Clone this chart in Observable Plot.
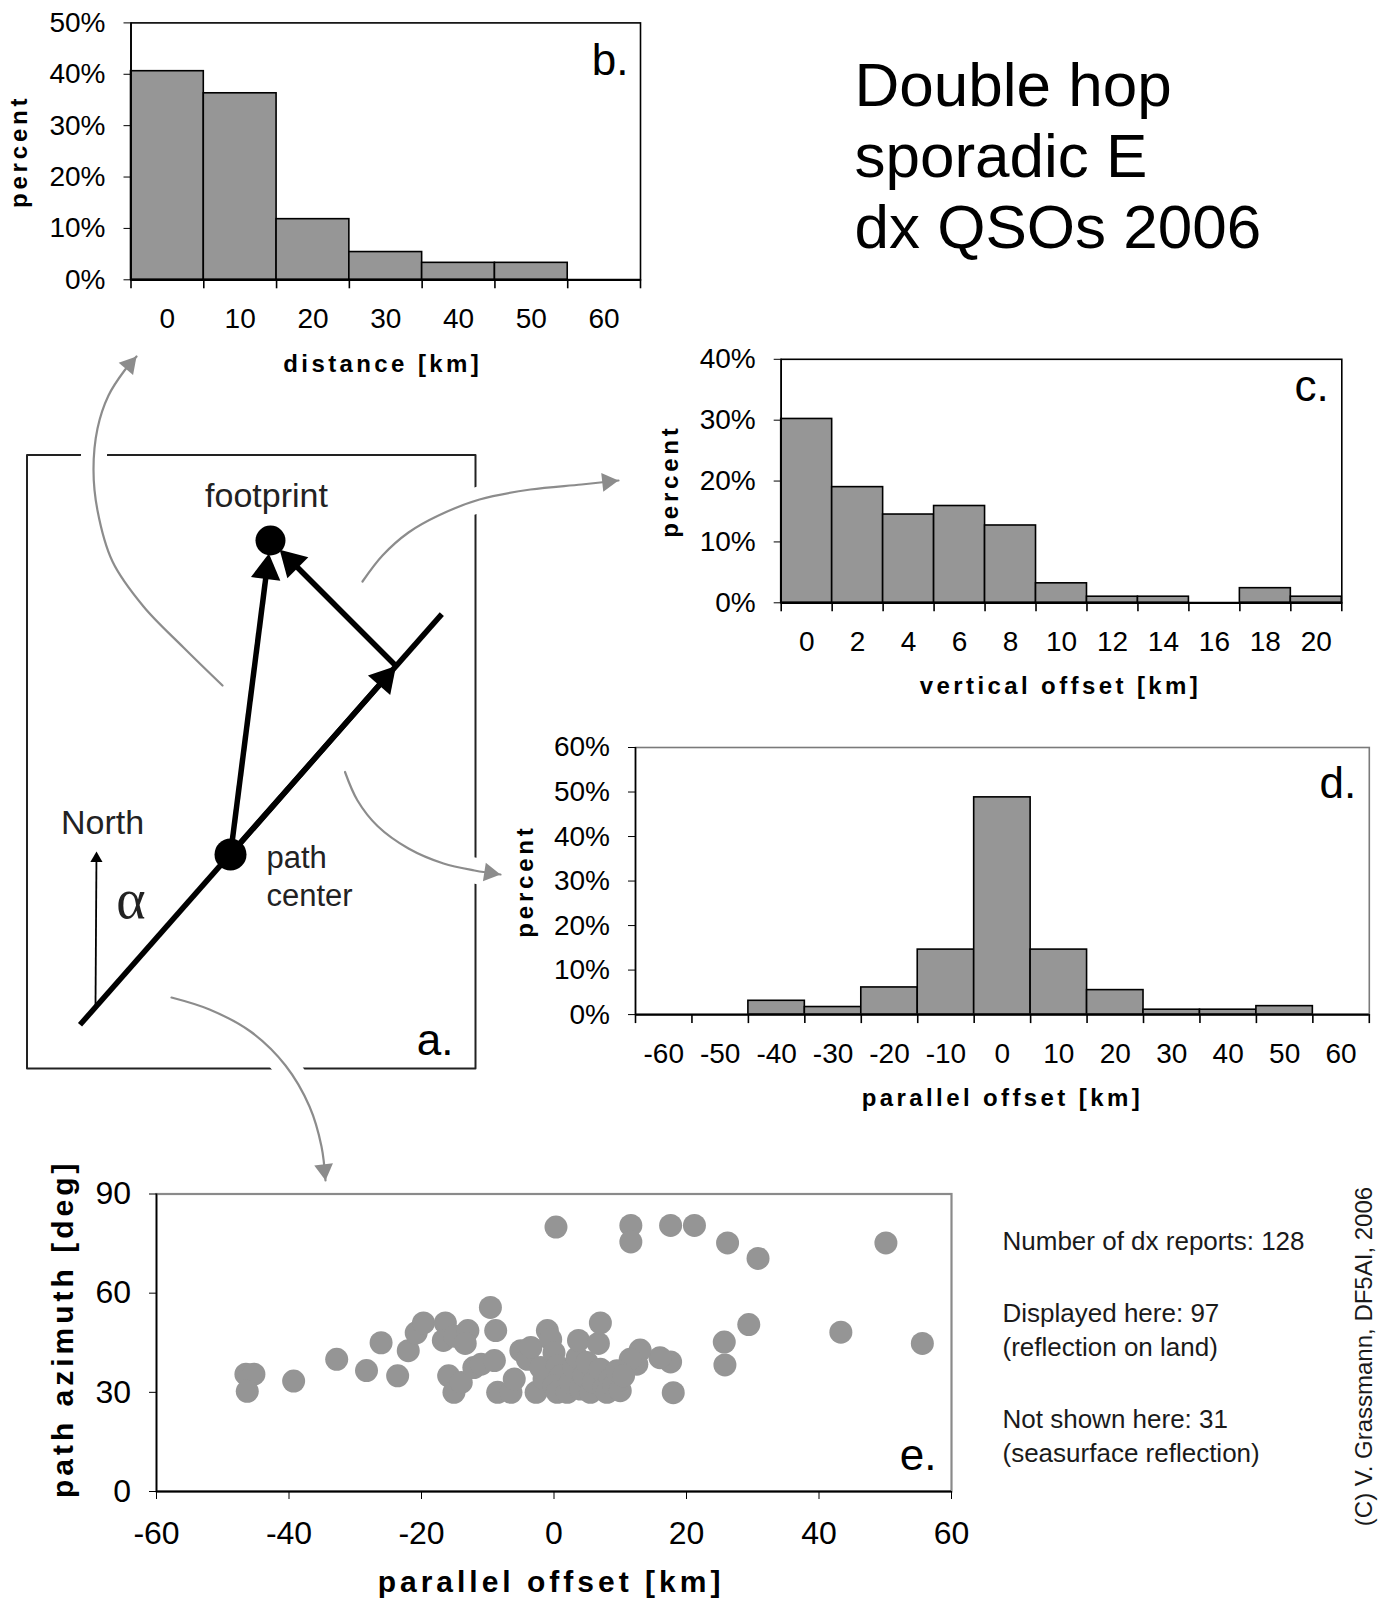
<!DOCTYPE html>
<html><head><meta charset="utf-8">
<script src="https://cdn.jsdelivr.net/npm/d3@7"></script>
<script src="https://cdn.jsdelivr.net/npm/@observablehq/plot@0.6"></script>
<style>
html,body{margin:0;padding:0;background:#fff;}
#page{position:relative;width:1380px;height:1598px;overflow:hidden;background:#fff;}
#page svg{position:absolute;overflow:visible;max-width:none;}
</style></head><body><div id="page"></div>
<script>
// ---------- data ----------
const distanceKm = [0, 10, 20, 30, 40, 50, 60];
const distancePct = [40.6, 36.3, 11.8, 5.4, 3.3, 3.3, 0];

const verticalKm = [0, 2, 4, 6, 8, 10, 12, 14, 16, 18, 20];
const verticalPct = [30.2, 19.0, 14.5, 15.9, 12.7, 3.2, 1.0, 1.0, 0, 2.4, 1.0];

const parallelKm = [-60, -50, -40, -30, -20, -10, 0, 10, 20, 30, 40, 50, 60];
const parallelPct = [0, 0, 3.1, 1.7, 6.1, 14.6, 48.8, 14.6, 5.5, 1.1, 1.1, 1.9, 0];

const offsetKm = [
  0.3, 11.6, 11.6, 17.6, 21.2, 26.2, 30.8, 50.1,
  29.4, 43.3, 55.6, 25.7, 25.8, 18, 17.6, 16, 13, 12.5, 11.5,
  -46.5, -45.3, -46.3, -39.3, -32.8, -28.3, -26.1, -23.6, -22, -20.8, -19.7, -16.4, -16.7, -15, -13, -13.4,
  -9.6, -8.8, -15.9, -15.1, -14, -12.1, -11, -9, -8.5, -6.5, -6, -5, -4, -3.5, -2.7, -1, -0.5, -1.5, -2,
  0, 0.5, 1, 0, 0.5, 2, 2.5, 3, 3.5, 3.7, 4, 4.5, 5, 5.5, 6, 6.7, 7, 7, 7.5, 8, 8.5, 9, 9.5, 10, 10.5
];
const azimuthDeg = [
  80, 80.5, 75.5, 80.5, 80.5, 75.2, 70.5, 75.2,
  50.5, 48.2, 44.8, 45.2, 38.3, 29.9, 39.2, 40.5, 42.8, 38.5, 40,
  35.5, 35.5, 30.3, 33.4, 40, 36.6, 45, 35, 42.6, 48, 51, 51, 45.7, 47, 48.7, 44.8,
  55.7, 48.7, 35, 30, 33, 37.5, 38.5, 39.6, 30, 30, 34, 42.6, 40, 43.6, 30, 48.7, 46, 34, 37.5,
  42, 38, 35, 32, 30, 30, 33, 37.5, 40.5, 45.7, 31, 35, 39, 30, 33, 44.8, 51, 37, 31, 30, 34, 32, 36.5, 30.5, 35
];

const titleLines = ["Double hop", "sporadic E", "dx QSOs 2006"];
const noteLines = ["Number of dx reports: 128", "Displayed here: 97", "(reflection on land)", "Not shown here: 31", "(seasurface reflection)"];
const copyright = "(C) V. Grassmann, DF5AI, 2006";

// schematic (panel a) geometry, page pixel units
const diagBox = [[26.5, 454.6], [475, 454.6], [475, 1068], [26.5, 1068], [26.5, 454.6]];
const diagPath = {from: [79.5, 1024.3], to: [441.3, 613.6]};
const diagArrows = [
  {from: [230, 854], to: [395.5, 665.5]},
  {from: [230, 854], to: [268.4, 553]},
  {from: [395.5, 665.5], to: [279.2, 549.2]}
];
const footprintDot = [[270, 540]];
const centerDot = [[230, 854]];
const northArrow = {from: [95, 1005], to: [96, 851]};
const greyCurves = [
  [[222, 685], [183, 647], [143, 606], [112, 561], [97, 510], [93, 469], [97, 428], [108, 395], [124, 370], [136, 356]],
  [[362, 581], [382, 555], [408, 532], [438, 515], [479, 499], [530, 489], [581, 484], [618, 480]],
  [[344.5, 771.5], [357, 800], [377, 825.5], [408, 848], [443, 863], [474, 870], [500, 874]],
  [[171, 997], [209, 1009], [250, 1031], [285, 1065], [309, 1106], [321, 1146], [325, 1180]]
];
const centeredLabels = [{x: 266, y: 496, t: "footprint"}, {x: 102, y: 823, t: "North"}];
const pathCenterLabels = [{x: 266, y: 858, t: "path"}, {x: 266, y: 896, t: "center"}];

// ---------- helpers ----------
const FONT = "'Liberation Sans', Arial, Helvetica, sans-serif";
const BAR = "#969696";
const DOT = "#959595";
const page = document.getElementById("page");

function place(svg, left, top) {
  svg.style.left = left + "px";
  svg.style.top = top + "px";
  page.appendChild(svg);
}
function spaceText(svg, str, px) {
  d3.select(svg).selectAll("text").filter(function () { return this.textContent === str; })
    .style("letter-spacing", px + "px");
}
function head(from, to, r) {
  const dx = to[0] - from[0], dy = to[1] - from[1], L = Math.hypot(dx, dy);
  const ux = dx / L, uy = dy / L, off = 1.555 * r;
  return {x: to[0] - ux * off, y: to[1] - uy * off, rot: Math.atan2(ux, -uy) * 180 / Math.PI};
}

function histogram(cfg) {
  const {cats, pct, step, yMax, yStep, box, frameStroke, yTitleDx, xTitle, xTitleDx, xTitleDy, letter, letterDx, letterDy} = cfg;
  const data = cats.map((c, i) => ({c, p: pct[i]}));
  const bounds = d3.range(cats.length + 1).map(i => cats[0] - step / 2 + i * step);
  const svg = Plot.plot({
    width: box.w, height: box.h,
    marginLeft: box.ml, marginRight: box.mr, marginTop: box.mt, marginBottom: box.mb,
    style: {fontFamily: FONT, background: "transparent", color: "black", overflow: "visible"},
    x: {domain: [bounds[0], bounds[bounds.length - 1]]},
    y: {domain: [0, yMax]},
    marks: [
      Plot.rect(data, {x1: d => d.c - step / 2, x2: d => d.c + step / 2, y1: 0, y2: "p", fill: BAR, stroke: "black", strokeWidth: 1.6}),
      Plot.frame({stroke: frameStroke, strokeWidth: 1.6}),
      Plot.ruleX([bounds[0]], {stroke: "black", strokeWidth: 1.6}),
      Plot.ruleY([0], {stroke: "black", strokeWidth: 2.2}),
      Plot.axisY({ticks: d3.range(0, yMax + yStep / 2, yStep), tickFormat: d => d + "%", tickSize: 7, tickPadding: 18.5, fontSize: 28, label: null}),
      Plot.axisX({ticks: cats, tickSize: 0, tickPadding: 28.5, fontSize: 28, label: null, tickFormat: d => String(d)}),
      Plot.axisX({ticks: bounds, tickSize: 9, tickFormat: () => "", label: null, strokeWidth: 1.6}),
      Plot.text([0], {frameAnchor: "left", text: () => "percent", rotate: -90, dx: yTitleDx, fontWeight: "bold", fontSize: 24, textAnchor: "middle", lineAnchor: "middle"}),
      Plot.text([0], {frameAnchor: "bottom", text: () => xTitle, dx: xTitleDx, dy: xTitleDy, fontWeight: "bold", fontSize: 24, textAnchor: "middle", lineAnchor: "middle"}),
      Plot.text([0], {frameAnchor: "top-right", text: () => letter, dx: letterDx, dy: letterDy, fontSize: 44, textAnchor: "end", lineAnchor: "middle"})
    ]
  });
  spaceText(svg, "percent", 3.8);
  spaceText(svg, xTitle, 3.4);
  place(svg, box.left, box.top);
}

// ---------- panel b ----------
histogram({
  cats: distanceKm, pct: distancePct, step: 10, yMax: 50, yStep: 10,
  box: {left: 0, top: 0, w: 680, h: 400, ml: 130.5, mr: 40, mt: 22.4, mb: 120.7},
  frameStroke: "black", yTitleDx: -112, xTitle: "distance [km]", xTitleDx: -3, xTitleDy: 85,
  letter: "b.", letterDx: -12, letterDy: 38
});
// ---------- panel c ----------
histogram({
  cats: verticalKm, pct: verticalPct, step: 2, yMax: 40, yStep: 10,
  box: {left: 620, top: 330, w: 760, h: 380, ml: 160.7, mr: 38.7, mt: 28.8, mb: 107.7},
  frameStroke: "black", yTitleDx: -110.7, xTitle: "vertical offset [km]", xTitleDx: -1, xTitleDy: 84,
  letter: "c.", letterDx: -13, letterDy: 28
});
// ---------- panel d ----------
histogram({
  cats: parallelKm, pct: parallelPct, step: 10, yMax: 60, yStep: 10,
  box: {left: 480, top: 720, w: 900, h: 400, ml: 155, mr: 11.2, mt: 27, mb: 105.9},
  frameStroke: "#7a7a7a", yTitleDx: -110, xTitle: "parallel offset [km]", xTitleDx: 0, xTitleDy: 84,
  letter: "d.", letterDx: -13, letterDy: 36
});

// ---------- panel e (scatter) ----------
{
  const pts = offsetKm.map((x, i) => ({x, y: azimuthDeg[i]}));
  const svg = Plot.plot({
    width: 980, height: 448, marginLeft: 156, marginRight: 29, marginTop: 43.5, marginBottom: 107,
    style: {fontFamily: FONT, background: "transparent", color: "black", overflow: "visible"},
    x: {domain: [-60, 60]},
    y: {domain: [0, 90]},
    marks: [
      Plot.frame({stroke: "#8a8a8a", strokeWidth: 2.2}),
      Plot.dot(pts, {x: "x", y: "y", r: 11.5, fill: DOT}),
      Plot.ruleX([-60], {stroke: "black", strokeWidth: 1.6}),
      Plot.ruleY([0], {stroke: "black", strokeWidth: 2.2}),
      Plot.axisY({ticks: [0, 30, 60, 90], tickSize: 7, tickPadding: 18.5, fontSize: 32, label: null}),
      Plot.axisX({ticks: d3.range(-60, 61, 20), tickSize: 8, tickPadding: 21.5, fontSize: 32, label: null, tickFormat: d => String(d)}),
      Plot.text([0], {frameAnchor: "left", text: () => "path azimuth [deg]", rotate: -90, dx: -93, dy: -14, fontWeight: "bold", fontSize: 30, textAnchor: "middle", lineAnchor: "middle"}),
      Plot.text([0], {frameAnchor: "bottom", text: () => "parallel offset [km]", dx: -3, dy: 91, fontWeight: "bold", fontSize: 30, textAnchor: "middle", lineAnchor: "middle"}),
      Plot.text([0], {frameAnchor: "bottom-right", text: () => "e.", dx: -15, dy: -36, fontSize: 44, textAnchor: "end", lineAnchor: "middle"})
    ]
  });
  spaceText(svg, "path azimuth [deg]", 4);
  spaceText(svg, "parallel offset [km]", 4);
  place(svg, 0, 1150);
}

// ---------- overlay: schematic, title, notes ----------
{
  const greyR = 7, blackR = 11, northR = 4.5;
  const greyHeads = greyCurves.map(c => head(c[c.length - 2], c[c.length - 1], greyR));
  const blackHeads = diagArrows.map(a => head(a.from, a.to, blackR));
  const blackSegs = [
    {x1: diagPath.from[0], y1: diagPath.from[1], x2: diagPath.to[0], y2: diagPath.to[1]},
    ...diagArrows.map((a, i) => ({x1: a.from[0], y1: a.from[1], x2: blackHeads[i].x, y2: blackHeads[i].y}))
  ];
  const nHead = head(northArrow.from, northArrow.to, northR);
  const curveRows = greyCurves.flatMap((c, k) => c.map(p => ({k, x: p[0], y: p[1]})));
  const notesY = [1241, 1313, 1347, 1419, 1453];
  const svg = Plot.plot({
    width: 1380, height: 1598, margin: 0,
    style: {fontFamily: FONT, background: "transparent", color: "black", overflow: "visible", pointerEvents: "none"},
    x: {domain: [0, 1380], range: [0, 1380], axis: null},
    y: {domain: [0, 1598], range: [0, 1598], axis: null},
    marks: [
      Plot.line(diagBox, {x: d => d[0], y: d => d[1], stroke: "#222", strokeWidth: 2}),
      Plot.line(curveRows, {x: "x", y: "y", z: "k", curve: "catmull-rom", stroke: "white", strokeWidth: 26, strokeLinecap: "butt"}),
      Plot.line(curveRows, {x: "x", y: "y", z: "k", curve: "catmull-rom", stroke: "#8c8c8c", strokeWidth: 2.2}),
      Plot.dot(greyHeads, {x: "x", y: "y", r: greyR, rotate: "rot", symbol: "triangle", fill: "#8c8c8c"}),
      Plot.link(blackSegs, {x1: "x1", y1: "y1", x2: "x2", y2: "y2", stroke: "black", strokeWidth: 5.5}),
      Plot.dot(blackHeads, {x: "x", y: "y", r: blackR, rotate: "rot", symbol: "triangle", fill: "black"}),
      Plot.dot(footprintDot, {x: d => d[0], y: d => d[1], r: 15, fill: "black"}),
      Plot.dot(centerDot, {x: d => d[0], y: d => d[1], r: 16, fill: "black"}),
      Plot.link([northArrow], {x1: d => d.from[0], y1: d => d.from[1], x2: () => nHead.x, y2: () => nHead.y, stroke: "black", strokeWidth: 1.8}),
      Plot.dot([nHead], {x: "x", y: "y", r: northR, rotate: "rot", symbol: "triangle", fill: "black"}),
      Plot.text(centeredLabels, {x: "x", y: "y", text: "t", textAnchor: "middle", fontSize: 34, fill: "#222", lineAnchor: "middle"}),
      Plot.text(pathCenterLabels, {x: "x", y: "y", text: "t", textAnchor: "start", fontSize: 31, fill: "#222", lineAnchor: "middle"}),
      Plot.text([0], {x: () => 130.5, y: () => 900, text: () => "α", fontSize: 56, fontFamily: "'Liberation Serif', 'DejaVu Serif', serif", fill: "#222", lineAnchor: "middle"}),
      Plot.text([0], {x: () => 453, y: () => 1040, text: () => "a.", fontSize: 44, textAnchor: "end", lineAnchor: "middle"}),
      Plot.text([0], {x: () => 854, y: () => 55, text: () => titleLines.join("\n"), fontSize: 62, lineHeight: 1.145, textAnchor: "start", lineAnchor: "top"}),
      Plot.text(noteLines, {x: () => 1002, y: (d, i) => notesY[i], text: d => d, fontSize: 26, textAnchor: "start", lineAnchor: "middle", fill: "#1a1a1a"}),
      Plot.text([0], {x: () => 1364, y: () => 1356, text: () => copyright, rotate: -90, fontSize: 24, textAnchor: "middle", lineAnchor: "middle", fill: "#1a1a1a"})
    ]
  });
  place(svg, 0, 0);
}
</script></body></html>
